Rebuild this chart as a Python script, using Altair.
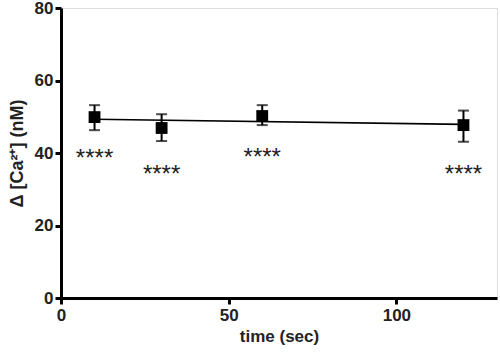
import altair as alt
import pandas as pd

# data
times = [10, 30, 60, 120]
means = [49.9, 46.9, 50.2, 47.7]
upper = [53.2, 50.7, 53.2, 51.7]
lower = [46.3, 43.3, 47.7, 43.1]
star_y = [40.3, 36.0, 40.5, 35.9]
star_text = ["****", "****", "****", "****"]
fit_x = [10, 120]
fit_y = [49.3, 47.9]

df = pd.DataFrame({"t": times, "m": means, "hi": upper, "lo": lower,
                   "sy": star_y, "s": star_text})
fit = pd.DataFrame({"t": fit_x, "y": fit_y})

FONT = "Liberation Sans"
xs = alt.Scale(domain=[0, 130], nice=False, zero=False)
ys = alt.Scale(domain=[0, 80], nice=False)

xax = alt.Axis(title="time (sec)", values=[0, 50, 100], grid=False,
               domainColor="black", domainWidth=3, tickColor="black", tickWidth=3,
               tickSize=6, labelFont=FONT, labelFontSize=17, labelFontWeight="bold",
               labelColor="#222", titleFont=FONT, titleFontSize=17, titleFontWeight="bold",
               titleColor="#222", labelPadding=3, titlePadding=5, labelFlush=False)
yax = alt.Axis(title="Δ [Ca²⁺] (nM)", values=[0, 20, 40, 60, 80], grid=False,
               domainColor="black", domainWidth=3, tickColor="black", tickWidth=3,
               tickSize=6, labelFont=FONT, labelFontSize=17, labelFontWeight="bold",
               labelColor="#222", titleFont=FONT, titleFontSize=18, titleFontWeight="bold",
               titleColor="#222", labelPadding=2, titlePadding=8, labelFlush=False)

base = alt.Chart(df)

line = alt.Chart(fit).mark_line(color="black", strokeWidth=1.6).encode(
    x=alt.X("t:Q", scale=xs, axis=xax), y=alt.Y("y:Q", scale=ys, axis=yax))

rules = base.mark_rule(color="black", strokeWidth=2).encode(
    x=alt.X("t:Q", scale=xs), y=alt.Y("lo:Q", scale=ys), y2="hi:Q")
cap_hi = base.mark_tick(color="black", orient="horizontal", size=11, thickness=2).encode(
    x=alt.X("t:Q", scale=xs), y=alt.Y("hi:Q", scale=ys))
cap_lo = base.mark_tick(color="black", orient="horizontal", size=11, thickness=2).encode(
    x=alt.X("t:Q", scale=xs), y=alt.Y("lo:Q", scale=ys))
pts = base.mark_point(shape="square", filled=True, color="black", size=140, opacity=1).encode(
    x=alt.X("t:Q", scale=xs), y=alt.Y("m:Q", scale=ys))
stars = base.mark_text(font=FONT, fontSize=24, color="#222", baseline="alphabetic",
                       dy=14).encode(
    x=alt.X("t:Q", scale=xs), y=alt.Y("sy:Q", scale=ys), text="s:N")

chart = alt.layer(line, rules, cap_hi, cap_lo, pts, stars).properties(
    width=436, height=290,
    autosize=alt.AutoSizeParams(type="none"),
    padding={"left": 61, "top": 8, "right": 3, "bottom": 56},
).configure_view(stroke=None).configure(background="white")

chart.save("out.html", embed_options={"renderer": "svg", "actions": False})
